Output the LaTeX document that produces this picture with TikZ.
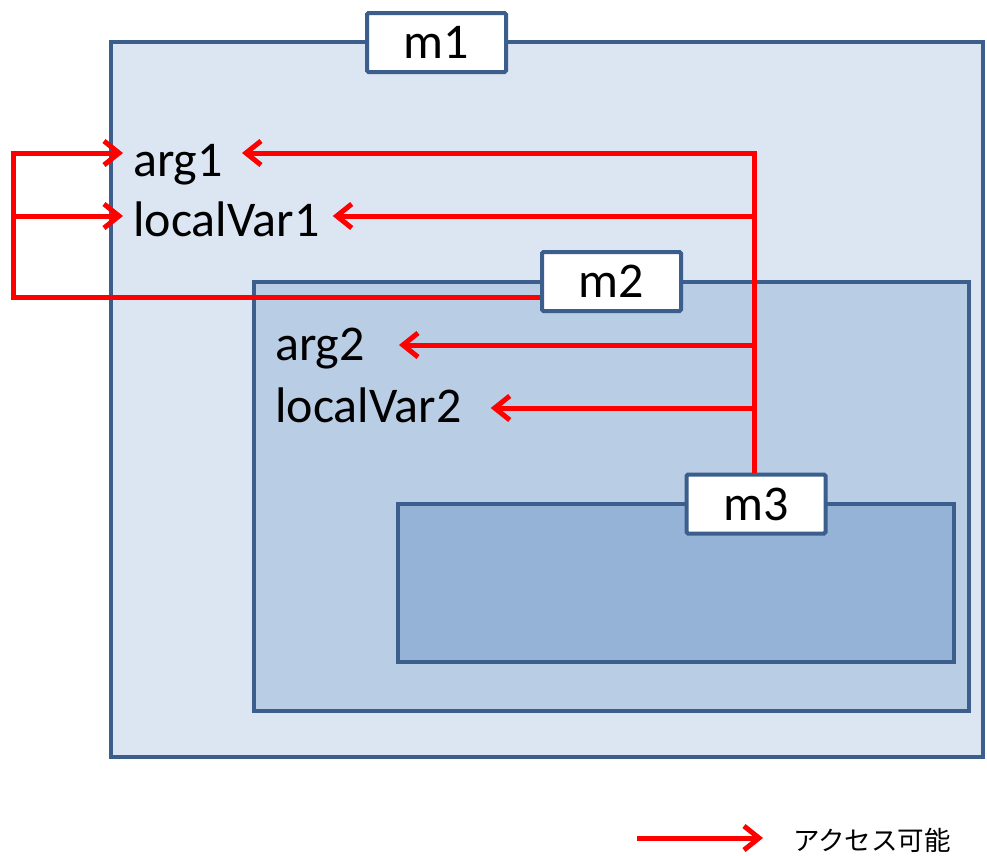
\documentclass[tikz,border=0pt]{standalone}
\usepackage{fontspec}
\setmainfont{Carlito}
\newfontfamily\cjk{Noto Sans CJK JP}
\usetikzlibrary{arrows.meta}
\definecolor{bord}{HTML}{3B5E8C}
\definecolor{fillA}{HTML}{DCE6F2}
\definecolor{fillB}{HTML}{B9CDE5}
\definecolor{fillC}{HTML}{95B3D7}
\definecolor{acred}{HTML}{FF0000}
\tikzset{
  scopebox/.style={draw=bord, line width=4pt},
  labelbox/.style={draw=bord, fill=white, line width=4pt, rounded corners=1.5pt, minimum width=139pt, minimum height=59pt, inner sep=0pt, font=\fontsize{50}{54}\selectfont},
  vartext/.style={anchor=base west, inner sep=0pt, font=\fontsize{50}{54}\selectfont},
  acc/.style={draw=acred, line width=5pt, -{Straight Barb[length=15pt,width=24pt,line width=5pt]}},
  accline/.style={draw=acred, line width=5pt}
}
\begin{document}
\begin{tikzpicture}[x=1pt,y=-1pt]
\useasboundingbox (0,0) rectangle (987,855);
% boxes
\draw[scopebox, fill=fillA] (111,42) rectangle (983,757);
\node[labelbox] (m1l) at (436.5,42.5) {m1};
\draw[scopebox, fill=fillB] (254,282) rectangle (969,711);
\node[labelbox] (m2l) at (611.5,281.5) {m2};
\draw[scopebox, fill=fillC] (398,504) rectangle (954,662);
\node[labelbox] (m3l) at (756,504) {m3};
% texts
\node[vartext] (arg1) at (133,176) {arg1};
\node[vartext] (lv1) at (133,236) {localVar1};
\node[vartext] (arg2) at (275,360) {arg2};
\node[vartext] (lv2) at (275,422) {localVar2};
% junction coordinates
\coordinate (vtop) at (754,153);
\coordinate (j1) at (754,216);
\coordinate (j2) at (754,345);
\coordinate (j3) at (754,408);
\coordinate (l0) at (13,297);
\coordinate (la) at (13,153);
\coordinate (lb) at (13,216);
% vertical trunk
\draw[accline] (m3l.north -| vtop) -- (vtop);
\draw[acc] ([xshift=2.5pt]vtop) -- ([xshift=19pt]arg1.east |- vtop);
\draw[acc] (j1) -- ([xshift=13pt]lv1.east |- j1);
\draw[acc] (j2) -- ([xshift=34pt]arg2.east |- j2);
\draw[acc] (j3) -- ([xshift=29pt]lv2.east |- j3);
% left loop
\draw[accline, line join=miter] (m2l.west |- l0) -- (l0) -- ([yshift=-2.5pt]la);
\draw[acc] ([xshift=-2.5pt]la) -- ([xshift=-10pt]arg1.west |- la);
\draw[acc] (lb) -- ([xshift=-10pt]lv1.west |- lb);
% legend
\coordinate (lgs) at (637,838);
\node[anchor=west, inner sep=0pt, font=\cjk\fontsize{26.5}{30}\selectfont] (lgt) at (793,840) {アクセス可能};
\draw[acc] (lgs) -- ([xshift=-30pt]lgt.west |- lgs);
\end{tikzpicture}
\end{document}
